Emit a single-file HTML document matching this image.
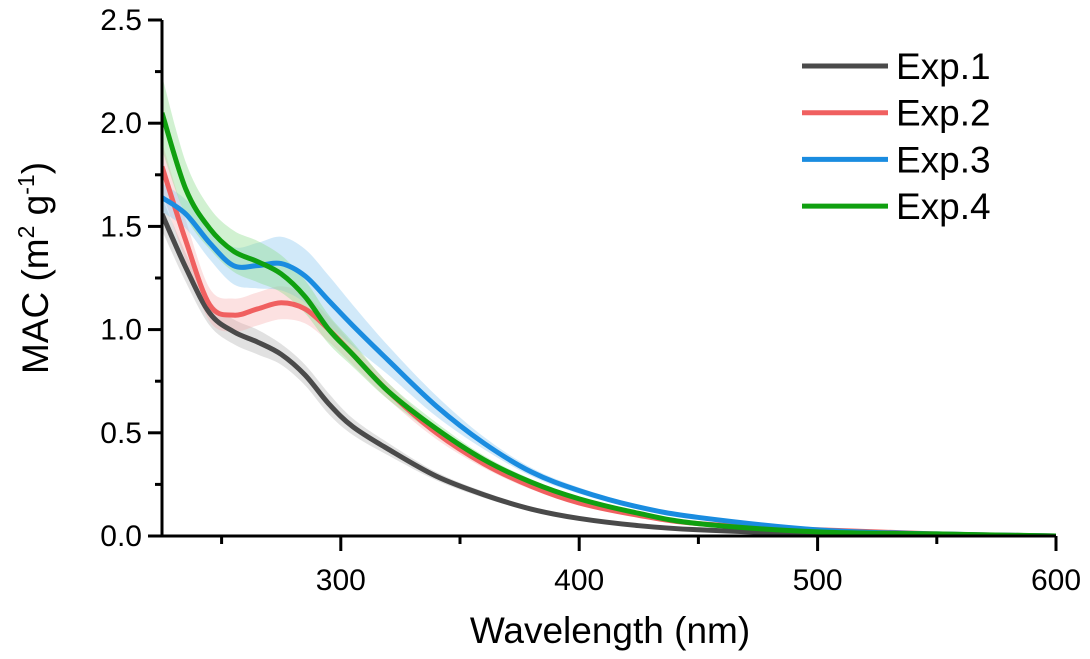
<!DOCTYPE html>
<html><head><meta charset="utf-8"><style>
html,body{margin:0;padding:0;background:#fff;}
svg{display:block;font-family:"Liberation Sans",Arial,sans-serif;}
</style></head><body>
<svg id="chart" width="1090" height="659"></svg>
<script>
const wavelengths=[225,235,245,255,265,275,285,295,305,320,340,360,380,400,425,450,500,550,600];
const exp1=[1.56,1.30,1.08,0.99,0.94,0.88,0.78,0.64,0.53,0.42,0.29,0.20,0.13,0.085,0.05,0.03,0.01,0.004,0.0];
const exp2=[1.79,1.43,1.12,1.07,1.10,1.13,1.10,1.00,0.88,0.70,0.50,0.35,0.24,0.16,0.10,0.06,0.03,0.01,0.0];
const exp3=[1.64,1.56,1.42,1.31,1.31,1.32,1.26,1.14,1.02,0.85,0.63,0.45,0.31,0.22,0.14,0.09,0.03,0.01,0.0];
const exp4=[2.05,1.68,1.49,1.38,1.33,1.27,1.16,1.00,0.88,0.70,0.52,0.37,0.26,0.18,0.11,0.06,0.02,0.01,0.0];
const err1=[0.08,0.07,0.06,0.06,0.06,0.05,0.05,0.05,0.04,0.03,0.02,0.015,0.01,0.01,0.005,0.004,0.003,0.002,0.0];
const err2=[0.12,0.10,0.08,0.08,0.08,0.08,0.07,0.06,0.05,0.04,0.03,0.02,0.015,0.01,0.005,0.004,0.003,0.002,0.0];
const err3=[0.07,0.07,0.08,0.09,0.11,0.13,0.13,0.12,0.10,0.07,0.05,0.03,0.02,0.015,0.01,0.005,0.003,0.002,0.0];
const err4=[0.18,0.13,0.10,0.10,0.10,0.09,0.08,0.07,0.06,0.04,0.03,0.02,0.015,0.01,0.005,0.004,0.003,0.002,0.0];
const seriesNames=["Exp.1","Exp.2","Exp.3","Exp.4"];
const xTicks=[300,400,500,600];
const yTicks=[0,0.5,1.0,1.5,2.0,2.5];
const yTickLabels=["0.0","0.5","1.0","1.5","2.0","2.5"];

const svg=document.getElementById('chart');
const NS='http://www.w3.org/2000/svg';
const L=162,R=1056,T=20,B=536,X0=225,X1=600,Y0=0,Y1=2.5;
const xs=v=>L+(v-X0)/(X1-X0)*(R-L);
const ys=v=>B-(v-Y0)/(Y1-Y0)*(B-T);
function mk(tag,attrs,parent){const e=document.createElementNS(NS,tag);for(const k in attrs)e.setAttribute(k,attrs[k]);(parent||svg).appendChild(e);return e;}
function segs(pts){let d='';for(let i=0;i<pts.length-1;i++){const p0=pts[Math.max(0,i-1)],p1=pts[i],p2=pts[i+1],p3=pts[Math.min(pts.length-1,i+2)];const c1x=p1[0]+(p2[0]-p0[0])/6,c1y=p1[1]+(p2[1]-p0[1])/6,c2x=p2[0]-(p3[0]-p1[0])/6,c2y=p2[1]-(p3[1]-p1[1])/6;d+=' C'+c1x+','+c1y+' '+c2x+','+c2y+' '+p2[0]+','+p2[1];}return d;}
function smooth(pts){return 'M'+pts[0][0]+','+pts[0][1]+segs(pts);}
const colors=['#4a4a4a','#f06060','#1a8ce0','#10a010'];
const bands=['rgba(180,180,180,0.4)','rgba(245,170,170,0.35)','rgba(140,200,240,0.4)','rgba(140,220,140,0.4)'];
const data=[exp1,exp2,exp3,exp4],errs=[err1,err2,err3,err4];
const clip=mk('clipPath',{id:'cp'});mk('rect',{x:L,y:T,width:R-L,height:B-T},clip);
data.forEach((s,i)=>{
 const up=wavelengths.map((w,j)=>[xs(w),ys(s[j]+errs[i][j])]);
 const lo=wavelengths.map((w,j)=>[xs(w),ys(Math.max(0,s[j]-errs[i][j]))]).reverse();
 const d=smooth(up)+' L'+lo[0][0]+','+lo[0][1]+segs(lo)+' Z';
 const b=mk('path',{d:d,fill:bands[i],stroke:'none','clip-path':'url(#cp)'});
 
 
});
data.forEach((s,i)=>{
 const p=mk('path',{d:smooth(wavelengths.map((w,j)=>[xs(w),ys(s[j])])),fill:'none',stroke:colors[i],'stroke-width':5,'clip-path':'url(#cp)'});
 
 
});
const ax=mk('line',{x1:L,y1:B,x2:R,y2:B,stroke:'#000','stroke-width':3});

const ay=mk('line',{x1:L,y1:B+1.5,x2:L,y2:T,stroke:'#000','stroke-width':3});

for(let w=250;w<=600;w+=50){const maj=w%100===0;mk('line',{x1:xs(w),y1:B,x2:xs(w),y2:B+(maj?15:8),stroke:'#000','stroke-width':3});}
xTicks.forEach(t=>{const e=mk('text',{x:xs(t),y:B+54,'font-size':30,'text-anchor':'middle',fill:'#000'});e.textContent=t;
 });
for(let v=0;v<=2.5001;v+=0.25){const maj=Math.abs(v*2-Math.round(v*2))<1e-6;mk('line',{x1:L,y1:ys(v),x2:L-(maj?14:7),y2:ys(v),stroke:'#000','stroke-width':3});}
yTicks.forEach((t,i)=>{const e=mk('text',{x:L-20,y:ys(t)+10,'font-size':30,'text-anchor':'end',fill:'#000'});e.textContent=yTickLabels[i];
 });
const xt=mk('text',{x:610,y:643,'font-size':37,'text-anchor':'middle',fill:'#000'});xt.textContent='Wavelength (nm)';

const yt=mk('text',{x:0,y:0,'font-size':37,'text-anchor':'middle',fill:'#000',transform:'translate(48,268) rotate(-90)'});
yt.innerHTML='MAC (m<tspan font-size="23" dy="-14">2</tspan><tspan dy="14"> g</tspan><tspan font-size="23" dy="-14">-1</tspan><tspan dy="14">)</tspan>';

seriesNames.forEach((n,i)=>{const y=66+i*46.7;
 const g=mk('g',{});
 mk('line',{x1:802,y1:y,x2:888,y2:y,stroke:colors[i],'stroke-width':5},g);
 const t=mk('text',{x:896,y:y+13,'font-size':37,fill:'#000'},g);t.textContent=n;});
</script>
</body></html>
